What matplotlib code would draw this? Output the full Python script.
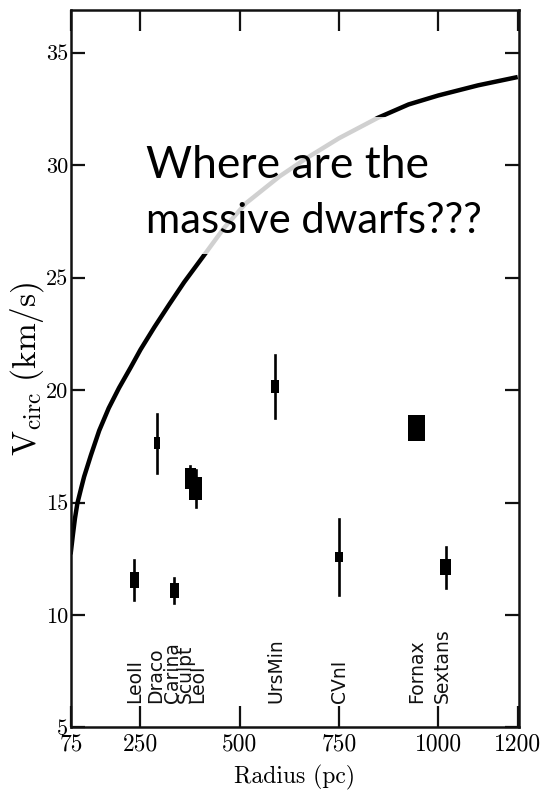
import matplotlib
matplotlib.use("Agg")
import matplotlib.pyplot as plt
from matplotlib.patches import Rectangle

# Rotation curve of the most massive subhalo (radius in pc, V_circ in km/s)
curve_r = [74, 80, 85, 91, 100, 108, 125, 146, 170, 196, 225, 250, 285, 322, 360,
           406, 460, 515, 600, 667, 750, 847, 925, 1000, 1100, 1200]
curve_v = [12.7, 13.6, 14.3, 14.96, 15.6, 16.15, 17.1, 18.2, 19.2, 20.1, 21.0, 21.8,
           22.8, 23.8, 24.8, 25.9, 27.2, 28.3, 29.5, 30.3, 31.2, 32.1, 32.7, 33.1,
           33.55, 33.92]

# Milky Way dwarf spheroidals
names = ["LeoII", "Draco", "Carina", "Sculpt", "LeoI", "UrsMin", "CVnI", "Fornax", "Sextans"]
radius = [234, 291, 335, 375, 389, 589, 750, 945, 1019]
vcirc = [11.56, 17.63, 11.08, 16.07, 15.63, 20.15, 12.59, 18.32, 12.12]
radius_err = [11.5, 7.5, 11.5, 14, 16.5, 10, 9, 21, 13.5]
vcirc_box = [0.37, 0.27, 0.33, 0.45, 0.52, 0.30, 0.22, 0.57, 0.35]
vcirc_err = [0.9, 1.3, 0.55, 0.57, 0.84, 1.4, 1.7, 0.0, 0.92]
label_r = [234, 289, 331, 363, 395, 592, 750, 945, 1010]

x_ticks = [75, 250, 500, 750, 1000, 1200]
y_ticks = [5, 10, 15, 20, 25, 30, 35]

plt.rcParams["font.family"] = "serif"
plt.rcParams["font.serif"] = ["cmr10"]
plt.rcParams["mathtext.fontset"] = "cm"
plt.rcParams["axes.formatter.use_mathtext"] = True

fig = plt.figure(figsize=(5.56, 7.93), dpi=100)
ax = fig.add_axes([0.1277, 0.0826, 0.8049, 0.9048])

ax.plot(curve_r, curve_v, color="black", lw=3.2, solid_capstyle="butt",
        solid_joinstyle="round", zorder=2)

for r, v, dr, dvb, dv in zip(radius, vcirc, radius_err, vcirc_box, vcirc_err):
    if dv > 0:
        ax.plot([r, r], [v - dv, v + dv], color="black", lw=1.9, zorder=3)
    ax.add_patch(Rectangle((r - dr, v - dvb), 2 * dr, 2 * dvb,
                           facecolor="black", edgecolor="none", zorder=4))

for name, r in zip(names, label_r):
    ax.text(r, 6.1, name, rotation=90, ha="center", va="bottom",
            family="DejaVu Sans", fontsize=13.5, color="#111111", zorder=5)

# translucent panel behind the caption
ax.add_patch(Rectangle((230, 26.03), 920, 6.12, facecolor="white",
                       edgecolor="none", alpha=0.82, zorder=6))
ax.text(263, 29.45, "Where are the", family="Lato", fontsize=32,
        ha="left", va="baseline", color="black", zorder=7)
ax.text(263, 26.97, "massive dwarfs???", family="Lato", fontsize=30,
        ha="left", va="baseline", color="black", zorder=7)

ax.set_xlim(75, 1202)
ax.set_ylim(5, 36.9)
ax.set_xticks(x_ticks)
ax.set_xticklabels([str(t) for t in x_ticks])
ax.set_yticks(y_ticks)
ax.set_yticklabels([str(t) for t in y_ticks])
ax.tick_params(axis="x", direction="in", length=15, width=1.6, top=True,
               labelsize=17, pad=4, color="#111111")
ax.tick_params(axis="y", direction="in", length=10, width=1.6, right=True,
               labelsize=16, pad=2, color="#111111")
for s in ax.spines.values():
    s.set_linewidth(1.8)
    s.set_color("#111111")

ax.set_xlabel("Radius (pc)", fontsize=17, labelpad=7)
ax.set_ylabel(r"$\mathrm{V}_{\mathrm{circ}}\ \mathrm{(km/s)}$", fontsize=24, labelpad=0)

fig.savefig("out.png", dpi=100)
